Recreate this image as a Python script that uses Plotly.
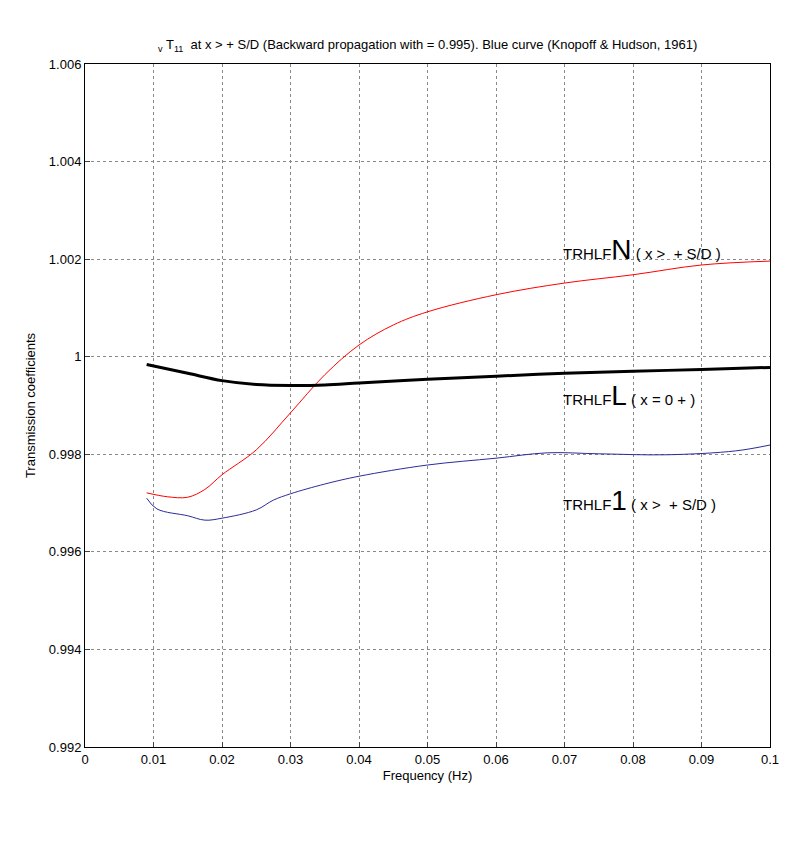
import plotly.graph_objects as go

red_x = [0.009,0.012,0.015,0.0175,0.02,0.025,0.03,0.035,0.04,0.045,0.05,0.06,0.07,0.08,0.09,0.1]
red_y = [0.99721,0.99713,0.99712,0.99728,0.99758,0.99809,0.99885,0.99963,1.00024,1.00065,1.00092,1.00127,1.00151,1.00168,1.00188,1.00196]
blk_x = [0.009,0.015,0.02,0.025,0.03,0.035,0.04,0.05,0.06,0.07,0.08,0.09,0.1]
blk_y = [0.99984,0.99966,0.99951,0.99943,0.99941,0.99942,0.99946,0.99954,0.9996,0.99966,0.9997,0.99974,0.99978]
blu_x = [0.009,0.0105,0.015,0.0175,0.02,0.025,0.0275,0.03,0.035,0.04,0.05,0.06,0.0675,0.075,0.085,0.095,0.1]
blu_y = [0.9971,0.99688,0.99674,0.99665,0.99669,0.99686,0.99706,0.99719,0.99739,0.99755,0.99778,0.99792,0.99803,0.99801,0.99799,0.99807,0.99819]

fig = go.Figure()
fig.add_trace(go.Scatter(x=red_x, y=red_y, mode="lines", line=dict(color="red", width=1, shape="spline")))
fig.add_trace(go.Scatter(x=blk_x, y=blk_y, mode="lines", line=dict(color="black", width=3, shape="spline")))
fig.add_trace(go.Scatter(x=blu_x, y=blu_y, mode="lines", line=dict(color="#2b2b9a", width=1, shape="spline")))

f = dict(family="Liberation Sans, Arial", size=13, color="black")
fa = dict(family="Liberation Sans, Arial", size=15, color="black")
ann = [
    (0.0695, 1.0022, "TRHLF<span style='font-size:28px'>N</span> ( x >  + S/D )"),
    (0.0695, 0.99920, "TRHLF<span style='font-size:28px'>L</span> ( x = 0 + )"),
    (0.0695, 0.99706, "TRHLF<span style='font-size:28px'>1</span> ( x >  + S/D )"),
]
annotations = [dict(x=x, y=y, text=t, showarrow=False, xanchor="left", font=fa) for x, y, t in ann]
annotations.append(dict(x=0.5, y=1.0, xref="paper", yref="paper", yanchor="bottom", yshift=8, showarrow=False,
    text="<sub>v</sub> T<sub>11</sub>  at x > + S/D (Backward propagation with = 0.995). Blue curve (Knopoff & Hudson, 1961)",
    font=f))

ax = dict(showgrid=True, gridcolor="#888", griddash="dot", gridwidth=1, showline=True, linecolor="black", mirror=True,
          ticks="inside", ticklen=5, zeroline=False, tickfont=f)
fig.update_layout(width=800, height=842, plot_bgcolor="white", paper_bgcolor="white", showlegend=False,
    margin=dict(l=77, r=38, t=56, b=103), annotations=annotations, font=f,
    xaxis=dict(ax, range=[0, 0.1], tickvals=[0,0.01,0.02,0.03,0.04,0.05,0.06,0.07,0.08,0.09,0.1],
               ticktext=["0","0.01","0.02","0.03","0.04","0.05","0.06","0.07","0.08","0.09","0.1"],
               title=dict(text="Frequency (Hz)", font=f, standoff=5)),
    yaxis=dict(ax, range=[0.992, 1.006], tickvals=[0.992,0.994,0.996,0.998,1.0,1.002,1.004,1.006],
               ticktext=["0.992","0.994","0.996","0.998","1","1.002","1.004","1.006"],
               title=dict(text="Transmission coefficients", font=f, standoff=10)))
fig.write_html("out.html")
